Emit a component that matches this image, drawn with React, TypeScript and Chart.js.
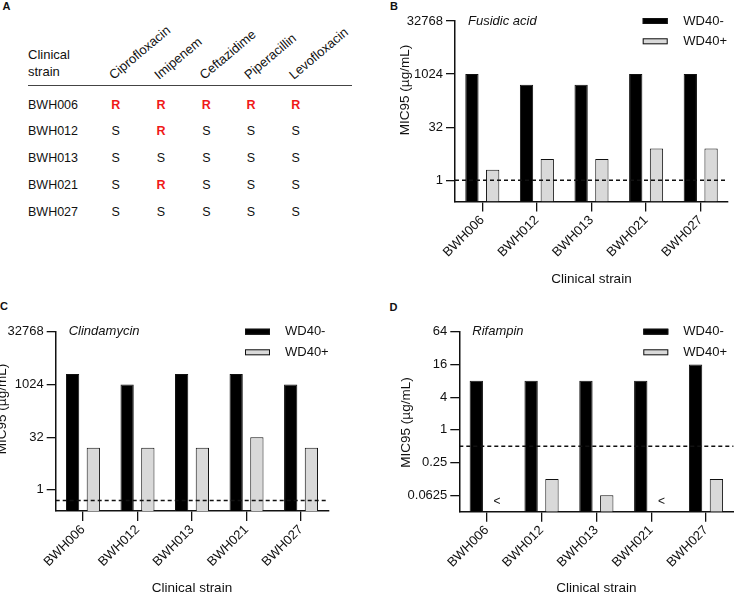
import React, { useEffect, useRef } from 'react';
import { Chart, registerables } from 'chart.js';

Chart.register(...registerables);

const FONT = "'Liberation Sans', Arial, Helvetica, sans-serif";
Chart.defaults.font.family = FONT;
Chart.defaults.font.size = 13;
Chart.defaults.color = '#111';

// ---------- data ----------
const strains = ['BWH006', 'BWH012', 'BWH013', 'BWH021', 'BWH027'];
const drugs = ['Ciprofloxacin', 'Imipenem', 'Ceftazidime', 'Piperacillin', 'Levofloxacin'];
const resBWH006 = ['R', 'R', 'R', 'R', 'R'];
const resBWH012 = ['S', 'R', 'S', 'S', 'S'];
const resBWH013 = ['S', 'S', 'S', 'S', 'S'];
const resBWH021 = ['S', 'R', 'S', 'S', 'S'];
const resBWH027 = ['S', 'S', 'S', 'S', 'S'];
const resistanceRows = [resBWH006, resBWH012, resBWH013, resBWH021, resBWH027];

const seriesNames = ['WD40-', 'WD40+'];

const fusidicMinus = [1024, 512, 512, 1024, 1024];
const fusidicPlus = [2, 4, 4, 8, 8];
const fusidicTicks = [1, 32, 1024, 32768];
const fusidicRange = [0.25, 32768];
const fusidicCutoff = 1;

const clindaMinus = [2048, 1024, 2048, 2048, 1024];
const clindaPlus = [16, 16, 16, 32, 16];
const clindaTicks = [1, 32, 1024, 32768];
const clindaRange = [0.25, 32768];
const clindaCutoff = 0.5;

const rifMinus = [8, 8, 8, 8, 16];
const rifPlus: (number | null)[] = [null, 0.125, 0.0625, null, 0.125];
const rifMarks = ['<', '', '', '<', ''];
const rifTicks = [0.0625, 0.25, 1, 4, 16, 64];
const rifRange = [0.03125, 64];
const rifCutoff = 0.5;

// ---------- layout ----------
type Area = { l: number; t: number; r: number; b: number };
type PanelProps = {
  left: number; top: number; width: number; height: number; area: Area;
  drug: string; minus: (number | null)[]; plus: (number | null)[]; marks?: string[];
  ticks: number[]; range: number[]; cutoff: number;
  yTitleX: number; yTitleY: number; legBoxX: number; legTextX: number; legRows: number[];
  xTitlePad: number;
};

const TEXT = '#111';

function Panel(p: PanelProps) {
  const ref = useRef<HTMLCanvasElement | null>(null);
  useEffect(() => {
    if (!ref.current) return;
    const overlay = {
      id: 'overlay',
      afterDatasetsDraw(chart: any) {
        const ctx = chart.ctx;
        const { left, right, top, bottom } = chart.chartArea;
        const y = chart.scales.y;
        ctx.save();
        // cutoff line
        const cy = y.getPixelForValue(p.cutoff);
        ctx.setLineDash([4, 3]);
        ctx.lineWidth = 1.5;
        ctx.strokeStyle = TEXT;
        ctx.beginPath();
        ctx.moveTo(left, cy);
        ctx.lineTo(right, cy);
        ctx.stroke();
        ctx.setLineDash([]);
        // drug title
        ctx.fillStyle = TEXT;
        ctx.font = `italic 13px ${FONT}`;
        ctx.textBaseline = 'middle';
        ctx.textAlign = 'left';
        ctx.fillText(p.drug, left + 13, top);
        // legend
        const fills = ['#000', '#d9d9d9'];
        seriesNames.forEach((name, i) => {
          const ry = p.legRows[i];
          ctx.fillStyle = fills[i];
          ctx.fillRect(p.legBoxX, ry - 3, 25, 6);
          ctx.lineWidth = 1;
          ctx.strokeStyle = TEXT;
          ctx.strokeRect(p.legBoxX + 0.5, ry - 2.5, 24, 5);
          ctx.fillStyle = TEXT;
          ctx.font = `13px ${FONT}`;
          ctx.fillText(name, p.legTextX, ry);
        });
        // below-detection marks
        if (p.marks) {
          const meta = chart.getDatasetMeta(1);
          ctx.font = `12px ${FONT}`;
          ctx.textAlign = 'center';
          p.marks.forEach((m, i) => {
            if (!m) return;
            const el = meta.data[i];
            ctx.fillText(m, el.x, bottom - 10);
          });
        }
        // y title
        ctx.save();
        ctx.translate(p.yTitleX, p.yTitleY);
        ctx.rotate(-Math.PI / 2);
        ctx.textAlign = 'center';
        ctx.textBaseline = 'middle';
        ctx.font = `13.5px ${FONT}`;
        ctx.fillText('MIC95 (\u00b5g/mL)', 0, 0);
        ctx.restore();
        ctx.restore();
      },
    };
    const chart = new Chart(ref.current, {
      type: 'bar',
      data: {
        labels: strains,
        datasets: [
          { label: seriesNames[0], data: p.minus, backgroundColor: '#000', borderColor: '#111', borderWidth: 1 },
          { label: seriesNames[1], data: p.plus, backgroundColor: '#d9d9d9', borderColor: '#111', borderWidth: 1 },
        ],
      },
      options: {
        animation: false,
        responsive: false,
        maintainAspectRatio: false,
        devicePixelRatio: 1,
        layout: { padding: { left: 0, top: p.area.t, right: p.width - p.area.r, bottom: 0 } },
        datasets: { bar: { categoryPercentage: 0.76, barPercentage: 0.64 } },
        plugins: { legend: { display: false }, tooltip: { enabled: false }, title: { display: false } },
        scales: {
          x: {
            type: 'category',
            offset: true,
            grid: { display: true, offset: false, drawOnChartArea: false, drawTicks: true, tickLength: 10, color: TEXT, lineWidth: 1.3 },
            border: { display: true, color: TEXT, width: 1.5 },
            ticks: { maxRotation: 45, minRotation: 45, padding: 1, color: TEXT, font: { size: 13 }, autoSkip: false },
            title: { display: true, text: 'Clinical strain', color: TEXT, font: { size: 13.5, lineHeight: 1 }, padding: { top: 0, bottom: p.xTitlePad } },
            afterFit: (s: any) => { s.height = p.height - p.area.b; },
          },
          y: {
            type: 'logarithmic',
            min: p.range[0],
            max: p.range[1],
            grid: { display: true, drawOnChartArea: false, drawTicks: true, tickLength: 9, color: TEXT, lineWidth: 1.3 },
            border: { display: true, color: TEXT, width: 1.5 },
            ticks: { padding: 3, color: TEXT, font: { size: 13 }, autoSkip: false, callback: (v: any) => String(v) },
            afterBuildTicks: (s: any) => { s.ticks = p.ticks.map((v) => ({ value: v })); },
            afterFit: (s: any) => { s.width = p.area.l; },
          },
        },
      } as any,
      plugins: [overlay],
    });
    return () => chart.destroy();
  }, []);
  return (
    <canvas
      ref={ref}
      width={p.width}
      height={p.height}
      style={{ position: 'absolute', left: p.left, top: p.top, width: p.width, height: p.height }}
    />
  );
}

const colX = [115.7, 161, 206.3, 251, 295.7];
const rowY = [104, 130.8, 157.6, 184.4, 211.2];

function Table() {
  return (
    <svg width={734} height={595} style={{ position: 'absolute', left: 0, top: 0 }} fontFamily={FONT} fill={TEXT}>
      <text x={2.5} y={10} fontSize={11} fontWeight="bold">A</text>
      <text x={390} y={10} fontSize={11} fontWeight="bold">B</text>
      <text x={0} y={310} fontSize={11} fontWeight="bold">C</text>
      <text x={389.5} y={310.5} fontSize={11} fontWeight="bold">D</text>
      <text x={28} y={59} fontSize={13}>Clinical</text>
      <text x={28} y={76} fontSize={13}>strain</text>
      {drugs.map((d, i) => (
        <text key={d} x={colX[i] - 2} y={80} fontSize={13} transform={`rotate(-40 ${colX[i] - 2} 80)`}>{d}</text>
      ))}
      <line x1={28} x2={352} y1={85.5} y2={85.5} stroke="#444" strokeWidth={1} />
      {strains.map((s, r) => (
        <g key={s}>
          <text x={28} y={rowY[r] + 4.5} fontSize={12.5}>{s}</text>
          {resistanceRows[r].map((v, c) => (
            <text
              key={c}
              x={colX[c]}
              y={rowY[r] + 4.5}
              fontSize={12.5}
              textAnchor="middle"
              fontWeight={v === 'R' ? 'bold' : 'normal'}
              fill={v === 'R' ? '#f01818' : TEXT}
            >{v}</text>
          ))}
        </g>
      ))}
    </svg>
  );
}

export default function App() {
  return (
    <div style={{ position: 'absolute', left: 0, top: 0, width: 734, height: 595, background: '#fff', overflow: 'hidden' }}>
      <Table />
      <Panel
        left={370} top={0} width={364} height={290}
        area={{ l: 85, t: 21, r: 358, b: 201.5 }}
        drug="Fusidic acid" minus={fusidicMinus} plus={fusidicPlus}
        ticks={fusidicTicks} range={fusidicRange} cutoff={fusidicCutoff}
        yTitleX={35} yTitleY={90} legBoxX={272.7} legTextX={313.3} legRows={[21, 41.3]}
        xTitlePad={4}
      />
      <Panel
        left={0} top={290} width={370} height={305}
        area={{ l: 55.7, t: 41.7, r: 328.3, b: 221 }}
        drug="Clindamycin" minus={clindaMinus} plus={clindaPlus}
        ticks={clindaTicks} range={clindaRange} cutoff={clindaCutoff}
        yTitleX={2} yTitleY={119} legBoxX={245} legTextX={285} legRows={[41.7, 62.3]}
        xTitlePad={0}
      />
      <Panel
        left={370} top={290} width={364} height={305}
        area={{ l: 89.3, t: 41.7, r: 363.4, b: 221.7 }}
        drug="Rifampin" minus={rifMinus} plus={rifPlus} marks={rifMarks}
        ticks={rifTicks} range={rifRange} cutoff={rifCutoff}
        yTitleX={35.8} yTitleY={132.5} legBoxX={273.3} legTextX={313.3} legRows={[41.7, 62.3]}
        xTitlePad={0}
      />
    </div>
  );
}
